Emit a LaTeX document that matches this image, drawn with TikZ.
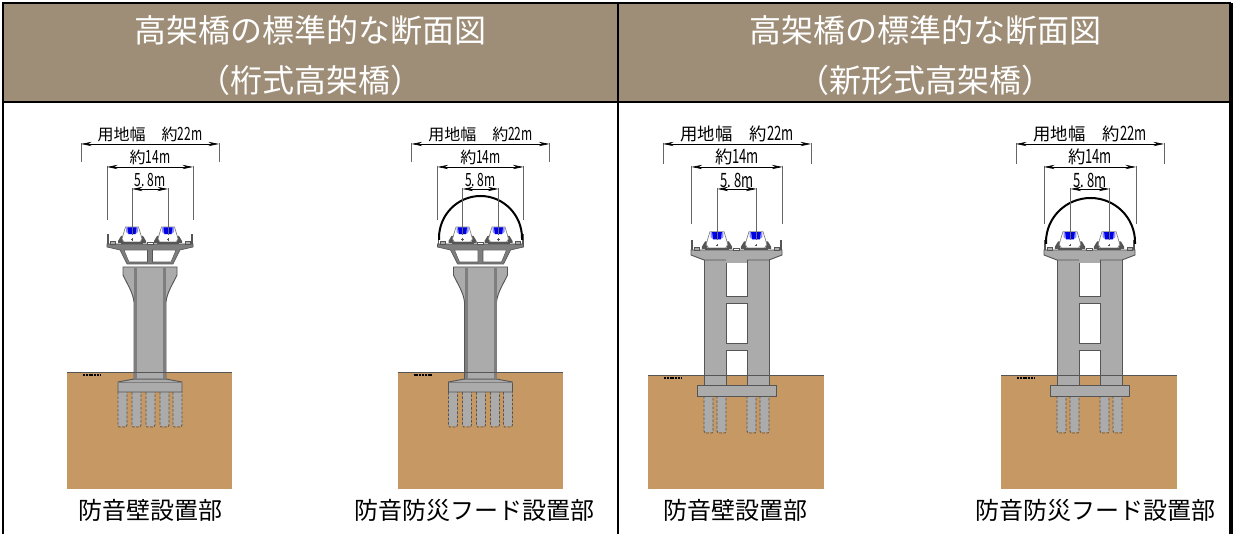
\documentclass[tikz,border=0pt]{standalone}
\usepackage{fontspec}
\usetikzlibrary{arrows.meta}
\setmainfont{Noto Sans CJK JP}
\newfontfamily\narrowf[FakeStretch=0.66,Scale=1.14]{Noto Sans CJK JP}
\definecolor{hdr}{HTML}{9E8E78}
\definecolor{soil}{HTML}{C69964}
\definecolor{conc}{HTML}{ABABAB}
\definecolor{concd}{HTML}{7E7E7E}
\definecolor{edge}{HTML}{555555}
\definecolor{dimc}{HTML}{666666}
\tikzset{
  frameline/.style={draw=black,line width=1.5pt},
  headtext/.style={text=white,font=\fontsize{24pt}{28pt}\selectfont,inner sep=0pt},
  captext/.style={text=black,font=\fontsize{18pt}{22pt}\selectfont,inner sep=0pt},
  dimline/.style={draw=dimc,line width=0.6pt},
  dimarrow/.style={draw=black,line width=0.5pt,{Stealth[length=8pt,width=3.2pt]}-{Stealth[length=8pt,width=3.2pt]}},
  dimtext/.style={text=black,inner sep=0pt},
  concbody/.style={fill=conc,draw=edge,line width=0.7pt},
  pilebody/.style={draw=edge,line width=0.6pt,dash pattern=on 2pt off 1.2pt},
  hood/.style={draw=black,line width=1.5pt},
}
% dimension set: centre, half widths of the three spans, feet of the lines, font size
\newcommand{\dimset}[8]{%
  \draw[dimline] ({#1-#2},143) -- ({#1-#2},#8);
  \draw[dimline] ({#1+#2},143) -- ({#1+#2},#8);
  \draw[dimarrow] ({#1-#2},144) -- ({#1+#2},144);
  \draw[dimline] ({#1-#3},166) -- ({#1-#3},#5);
  \draw[dimline] ({#1+#3},166) -- ({#1+#3},#5);
  \draw[dimarrow] ({#1-#3},167) -- ({#1+#3},167);
  \draw[dimline] ({#1-#4},188) -- ({#1-#4},#6);
  \draw[dimline] ({#1+#4},188) -- ({#1+#4},#6);
  \draw[dimarrow] ({#1-#4},189) -- ({#1+#4},189);
  \node[dimtext,font=\fontsize{#7pt}{#7pt}\selectfont] at (#1,134) {用地幅　約{\narrowf 22m}};
  \node[dimtext,font=\fontsize{#7pt}{#7pt}\selectfont] at (#1,157) {約{\narrowf 14m}};
  \node[dimtext,font=\fontsize{#7pt}{#7pt}\selectfont] at (#1,180) {\narrowf 5.\hspace{2pt}8m};
}
% train: centre x, bottom y, scale (negative coordinates go upward)
\newcommand{\train}[3]{%
  \begin{scope}[shift={(#1,#2)},x=#3*0.75pt,y=-#3*0.75pt]
    \fill[edge] (-14,-1) -- (-14,-3) -- (-11,-8) -- (-9,-8) -- (-9,-1) -- cycle;
    \fill[edge] (14,-1) -- (14,-3) -- (11,-8) -- (9,-8) -- (9,-1) -- cycle;
    \draw[fill=white,draw=concd,line width=0.5pt] (-6.5,-17) -- (6.5,-17) .. controls (8,-12) and (9,-9) .. (10,-5) -- (8,-2) -- (-8,-2) -- (-10,-5) .. controls (-9,-9) and (-8,-12) .. (-6.5,-17) -- cycle;
    \fill[blue!45] (-6,-16.5) -- (6,-16.5) -- (6,-12) -- (3,-9.5) -- (-3,-9.5) -- (-6,-12) -- cycle;
    \fill[blue!90!black] (-4.5,-16.5) -- (4.5,-16.5) -- (3.5,-10) -- (-3.5,-10) -- cycle;
    \draw[edge,line width=0.4pt] (-1.2,-4.5) -- (1.2,-4.5) (0,-5.7) -- (0,-3.3);
    \fill[edge] (-11,-1.5) rectangle (11,-0.3);
  \end{scope}
}
% upper deck furniture common to all piers
\newcommand{\deckbits}[3]{% centre, half width, deck top y
  \fill[edge] ({#1-#2},{#3-10}) rectangle ({#1-#2+1.6},{#3});
  \fill[edge] ({#1+#2-1.6},{#3-10}) rectangle ({#1+#2},{#3});
  \draw[fill=conc,draw=edge,line width=0.4pt] ({#1-#2+3},{#3-3}) rectangle ({#1-#2+8},{#3});
  \draw[fill=conc,draw=edge,line width=0.4pt] ({#1+#2-8},{#3-3}) rectangle ({#1+#2-3},{#3});
  \draw[fill=white,draw=edge,line width=0.4pt] ({#1-3},{#3-2}) rectangle ({#1+3},{#3});
}
% girder type pier at centre x
\newcommand{\girderpier}[1]{%
  \begin{scope}[shift={(#1,0)}]
    \fill[soil] (-83,372) rectangle (82,489);
    \draw[edge,line width=0.6pt] (-83,372) -- (82,372);
    \draw[black,line width=1.2pt,dash pattern=on 1.5pt off 0.6pt] (-67,375) -- (-49,375);
    \foreach \px in {-32,-18,-4,10,23} {
      \fill[conc] (\px+0.3,392) rectangle (\px+8.7,426);
      \draw[pilebody] (\px,392) -- (\px,425) -- ++(1,2) -- ++(7,0) -- ++(1,-2) -- ++(0,-33);
    }
    \draw[concbody] (-32,392) -- (-32,382) -- (-16,379) -- (16,379) -- (32,382) -- (32,392) -- cycle;
    \draw[concd,line width=0.6pt] (-32,382) -- (32,382);
    % column and head
    \draw[concbody] (-27,267) -- (27,267) -- (27,275) .. controls (24,282) and (17,292) .. (16,302) -- (16,379) -- (-16,379) -- (-16,302) .. controls (-17,292) and (-24,282) .. (-27,275) -- cycle;
    \fill[concd] (-16,268) rectangle (-13,379);
    \fill[concd] (13,268) rectangle (16,379);
    \draw[edge,line width=0.6pt] (-16,372) -- (16,372);
    % box girder
    \draw[fill=concd,draw=edge,line width=0.5pt] (-43,244) -- (43,244) -- (43,247) -- (30,250) -- (23,264) -- (-23,264) -- (-30,250) -- (-43,247) -- cycle;
    \draw[fill=white,draw=edge,line width=0.4pt] (-26,250) -- (-2.5,250) -- (-2.5,262) -- (-21,262) -- cycle;
    \draw[fill=white,draw=edge,line width=0.4pt] (26,250) -- (2.5,250) -- (2.5,262) -- (21,262) -- cycle;
    \train{-18}{244}{1}
    \train{18}{244}{1}
    \deckbits{0}{43}{244}
  \end{scope}
}
% frame type pier at centre x
\newcommand{\framepier}[1]{%
  \begin{scope}[shift={(#1,0)}]
    \fill[soil] (-89,375) rectangle (87,489);
    \draw[edge,line width=0.6pt] (-89,375) -- (87,375);
    \draw[black,line width=1.2pt,dash pattern=on 1.5pt off 0.6pt] (-73,378) -- (-55,378);
    \foreach \px in {-33,-20,10,23} {
      \fill[conc] (\px,396) rectangle (\px+9,432);
      \draw[pilebody] (\px,396) -- (\px,431) -- ++(1,2) -- ++(7,0) -- ++(1,-2) -- ++(0,-35);
    }
    \draw[concbody] (-33,258) rectangle (32,385);
    \draw[fill=white,draw=edge,line width=0.7pt] (-11,257) rectangle (10,296);
    \draw[fill=white,draw=edge,line width=0.7pt] (-11,303) rectangle (10,343);
    \draw[fill=white,draw=edge,line width=0.7pt] (-11,350) -- (10,350) -- (10,375) -- (-11,375) -- cycle;
    \fill[soil] (-10.6,375.4) rectangle (9.6,385);
    \draw[edge,line width=0.7pt] (-11,375) -- (-11,385) (10,375) -- (10,385);
    \draw[edge,line width=0.6pt] (-33,375) -- (32,375);
    \draw[concbody] (-40,385) rectangle (39,396);
    % deck slab
    \draw[concbody] (-46,250) -- (45,250) -- (45,255) -- (32,260) -- (-33,260) -- (-46,255) -- cycle;
    \fill[conc] (-10.6,259) rectangle (9.6,262.6);
    \draw[edge,line width=0.7pt] (-11,263) -- (10,263);
    \fill[white] (-10.6,263.4) rectangle (9.6,270);
    \draw[edge,line width=0.7pt] (-11,263) -- (-11,270) (10,263) -- (10,270);
    \train{-20}{250}{1.08}
    \train{19}{250}{1.08}
    \deckbits{-0.5}{45.5}{250}
  \end{scope}
}
\begin{document}
\begin{tikzpicture}[x=0.75pt,y=-0.75pt]
\useasboundingbox (0,0) rectangle (1235,534);
\fill[white] (0,0) rectangle (1235,534);
% header band
\fill[hdr] (3,3) rectangle (1231,102);
% frame
\draw[frameline] (3,534) -- (3,3) -- (1231,3);
\draw[frameline] (3,102) -- (1231,102);
\draw[frameline] (617.5,3) -- (617.5,534);
\fill[black] (1229,3) rectangle (1233,534);
% header texts
\node[headtext] (h1a) at (310,30) {高架橋の標準的な断面図};
\node[headtext] (h1b) at (310,80) {（桁式高架橋）};
\node[headtext] (h2a) at (925,30) {高架橋の標準的な断面図};
\node[headtext] (h2b) at (925,80) {（新形式高架橋）};
% piers
\girderpier{150}
\girderpier{480.5}
\framepier{737}
\framepier{1090}
% hoods
\draw[hood] (439,240) -- (439,238) arc[start angle=180,end angle=360,x radius=41.5,y radius=42] -- (522,240);
\draw[hood] (1046,244) -- (1046,242) arc[start angle=180,end angle=360,x radius=44.5,y radius=44] -- (1135,244);
% dimensions
\dimset{150}{69}{43}{18}{220}{235}{12}{162}
\dimset{480.5}{69}{43}{18}{220}{235}{12}{162}
\dimset{737}{74}{45.5}{19.5}{224}{240}{13}{164}
\dimset{1090}{74}{46}{19.5}{224}{240}{13}{164}
% captions
\node[captext] (c1) at (150,510) {防音壁設置部};
\node[captext] (c2) at (474,510) {防音防災フード設置部};
\node[captext] (c3) at (735,510) {防音壁設置部};
\node[captext] (c4) at (1095,510) {防音防災フード設置部};
\end{tikzpicture}
\end{document}
